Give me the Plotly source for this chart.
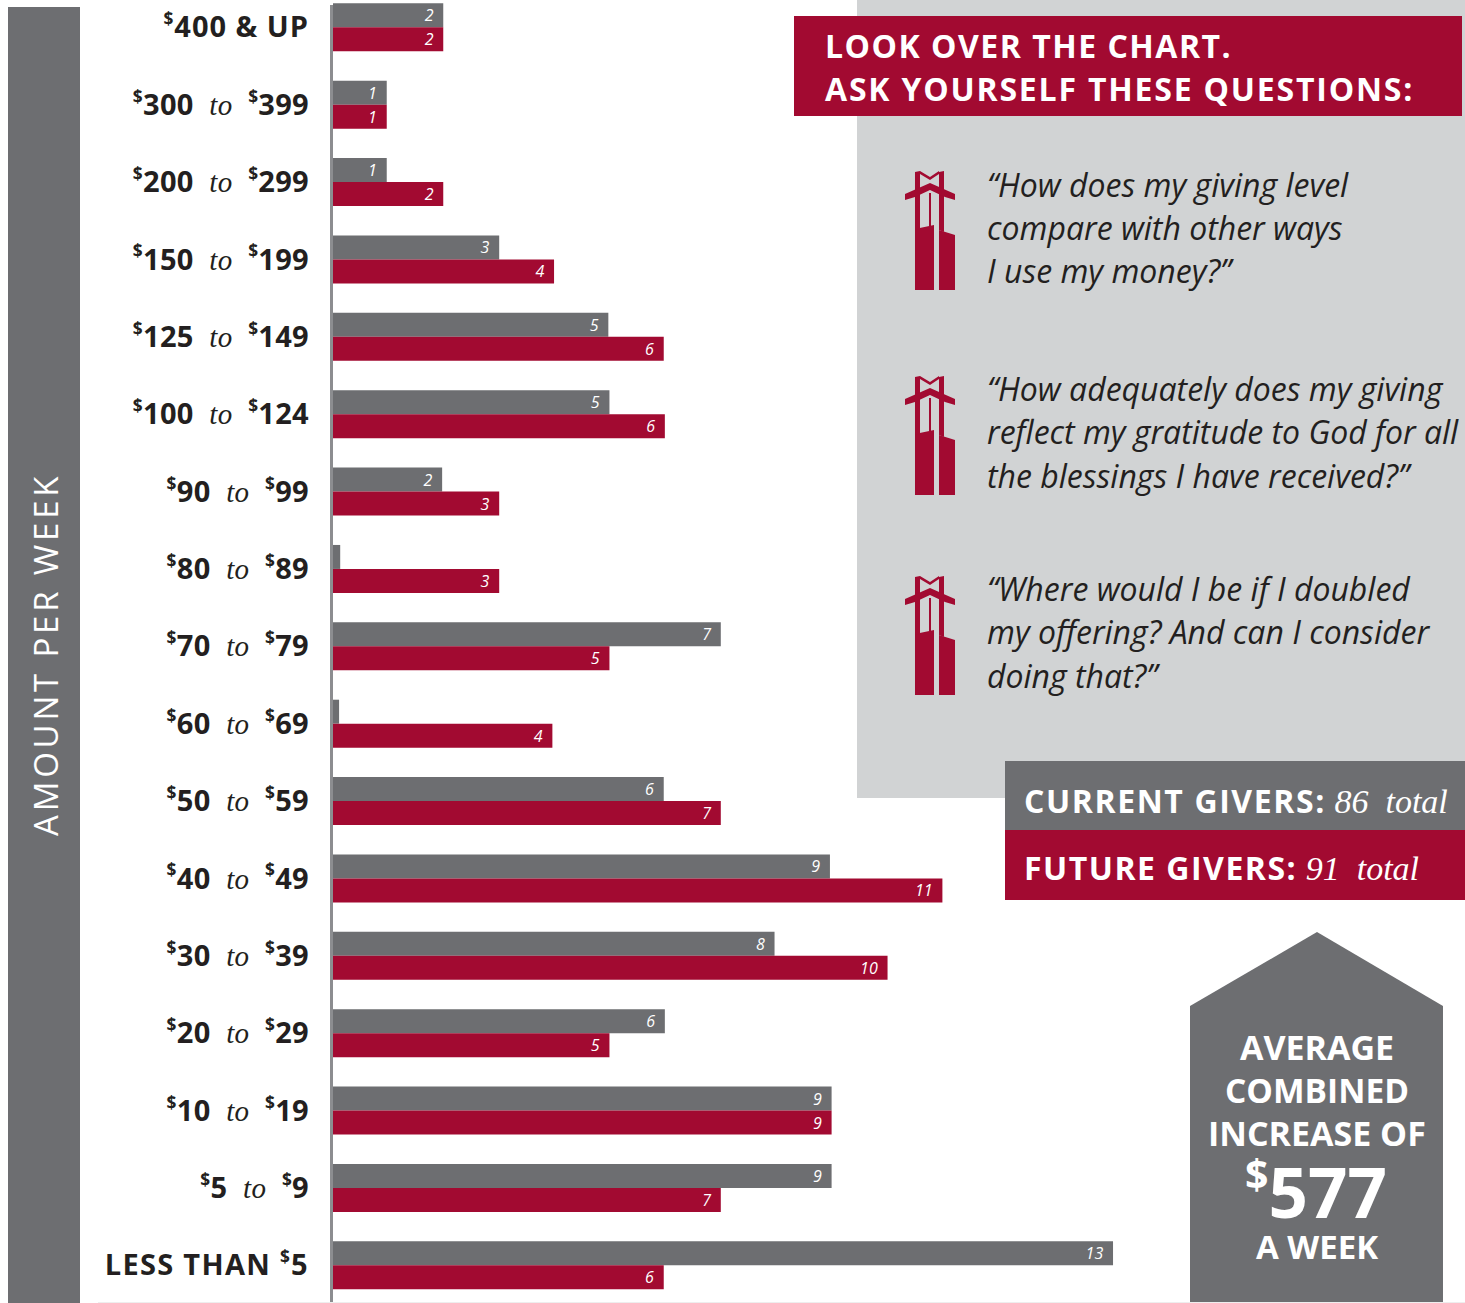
import plotly.graph_objects as go

W, H = 1465, 1303
GREY = "#6d6e71"
RED = "#a20a31"
PANEL = "#d1d3d4"
INK = "#231f20"
SANS = "Open Sans"
SCRIPT = "Liberation Serif"

bands = ["$400 & UP", "$300 to $399", "$200 to $299", "$150 to $199", "$125 to $149",
         "$100 to $124", "$90 to $99", "$80 to $89", "$70 to $79", "$60 to $69",
         "$50 to $59", "$40 to $49", "$30 to $39", "$20 to $29", "$10 to $19",
         "$5 to $9", "LESS THAN $5"]
current_labels = [2, 1, 1, 3, 5, 5, 2, "", 7, "", 6, 9, 8, 6, 9, 9, 13]
future_labels = [2, 1, 2, 4, 6, 6, 3, 3, 5, 4, 7, 11, 10, 5, 9, 7, 6]
# bar lengths (the drawn bars are not strictly proportional to the labels)
current_lengths = [1.99, 0.97, 0.97, 3.0, 4.97, 4.99, 1.97, 0.13, 7.0, 0.11, 5.97, 8.97, 7.97, 5.99, 9.0, 9.0, 14.08]
future_lengths = [1.99, 0.97, 1.99, 3.99, 5.97, 5.99, 3.0, 3.0, 4.99, 3.96, 7.0, 11.0, 10.01, 4.99, 9.0, 7.0, 5.97]

question_lines = [
    ["\u201cHow does my giving level", "compare with other ways", "I use my money?\u201d"],
    ["\u201cHow adequately does my giving", "reflect my gratitude to God for all", "the blessings I have received?\u201d"],
    ["\u201cWhere would I be if I doubled", "my offering? And can I consider", "doing that?\u201d"],
]
header_lines = ["LOOK OVER THE CHART.", "ASK YOURSELF THESE QUESTIONS:"]
house_lines = ["AVERAGE", "COMBINED", "INCREASE OF"]

def px(x):
    return x / W

def py(y):
    return 1 - y / H

DOLLAR = '<sup><span style="font-size:85%">$</span></sup>'

def spaced(text, amount):
    return f'<span style="letter-spacing:{amount}px">{text}</span>'

def rich_band(b):
    if b == "$400 & UP":
        return spaced(f"{DOLLAR}400\u00a0&amp;\u00a0UP", 1.0)
    if b == "LESS THAN $5":
        return spaced(f"LESS\u00a0THAN\u00a0{DOLLAR}5", 1.3)
    a, c = b.split(" to ")
    to = f'<span style="font-family:{SCRIPT};font-style:italic;font-weight:400">to</span>'
    return spaced(f"{DOLLAR}{a[1:]}\u00a0\u00a0{to}\u00a0\u00a0{DOLLAR}{c[1:]}", 0.3)

def rect(x0, y0, x1, y1, color):
    return dict(type="rect", xref="paper", yref="paper", x0=px(x0), x1=px(x1), y0=py(y0), y1=py(y1),
                fillcolor=color, line_width=0, layer="below")

def poly(points, color, dx=0, dy=0, layer="below"):
    d = "M" + " L".join(f"{px(x + dx):.5f},{py(y + dy):.5f}" for x, y in points) + " Z"
    return dict(type="path", xref="paper", yref="paper", path=d, fillcolor=color, line_width=0, layer=layer)

def note(x, y, text, size, color="white", anchor="left", family=SANS, weight=400, style="normal", angle=0):
    return dict(xref="paper", yref="paper", x=px(x), y=py(y), text=text, showarrow=False,
                xanchor=anchor, yanchor="middle", textangle=angle, borderpad=0,
                font=dict(family=family, size=size, color=color, weight=weight, style=style))

fig = go.Figure()
for name, lengths, labels, color in [("Current givers", current_lengths, current_labels, GREY),
                                     ("Future givers", future_lengths, future_labels, RED)]:
    fig.add_trace(go.Bar(
        name=name, orientation="h", y=bands, x=lengths, marker=dict(color=color, line_width=0),
        text=[f"{v}\u00a0\u2009" if v != "" else "" for v in labels],
        textposition="inside", insidetextanchor="end", textangle=0, constraintext="none",
        textfont=dict(family=SANS, size=16, color="white", style="italic"),
        cliponaxis=False, hoverinfo="x+y",
    ))

shapes = [
    rect(857, 0, 1465, 798, PANEL),
    rect(8, 7, 80, 1303, GREY),
    rect(794, 16, 1462, 116, RED),
    rect(1005, 761, 1465, 830, GREY),
    rect(1005, 830, 1465, 900, RED),
    poly([(1190, 1006), (1317, 932), (1443, 1006), (1443, 1303), (1190, 1303)], GREY),
    dict(type="line", xref="paper", yref="paper", x0=px(331.5), x1=px(331.5), y0=py(5), y1=py(1303),
         line=dict(color="#8c8d90", width=3), layer="below"),
    dict(type="line", xref="paper", yref="paper", x0=px(98), x1=px(1465), y0=py(1302.5), y1=py(1302.5),
         line=dict(color="#eeeeee", width=1), layer="below"),
]
# steeple icon, drawn at each of the three questions
icon_parts = [
    [(915, 229), (934, 225), (934, 290), (915, 290)],
    [(939, 230), (955, 235), (955, 290), (939, 290)],
    [(915, 172), (920, 171), (920, 229), (915, 230)],
    [(939, 172), (944, 171), (944, 232), (939, 230)],
    [(920, 171), (930, 177), (939, 171), (939, 174), (930, 180), (920, 174)],
    [(905, 194), (930, 183), (955, 194), (955, 200), (945, 197), (930, 190), (915, 197), (905, 200)],
    [(929, 193), (931, 193), (931, 226), (929, 226)],
]
for dy in (0, 205, 405):
    for part in icon_parts:
        shapes.append(poly(part, RED, dy=dy))

script_span = f'<span style="font-family:{SCRIPT};font-style:italic;font-weight:400;font-size:34px">'
notes = [
    note(45, 655, spaced("AMOUNT PER WEEK", 3.8), 33, anchor="center", angle=-90),
    note(824, 45, spaced(header_lines[0], 1.5), 32, weight=700),
    note(824, 88, spaced(header_lines[1], 1.8), 32, weight=700),
    note(1023, 800, spaced("CURRENT GIVERS:", 1.6) + f"{script_span} 86  total</span>", 32, weight=700),
    note(1023, 868, spaced("FUTURE GIVERS:", 1.5) + f"{script_span} 91  total</span>", 32, weight=700),
    note(1317, 1047, house_lines[0], 34, anchor="center", weight=700),
    note(1317, 1090, house_lines[1], 33.5, anchor="center", weight=700),
    note(1317, 1133, house_lines[2], 34, anchor="center", weight=700),
    note(1316, 1191, f"{DOLLAR}577", 69, anchor="center", weight=700),
    note(1317, 1246, "A WEEK", 33, anchor="center", weight=700),
]
for lines, top in zip(question_lines, (184, 389, 589)):
    for i, line in enumerate(lines):
        notes.append(note(986, top + 43 * i, line, 32, color=INK, style="italic"))

fig.update_layout(
    width=W, height=H, autosize=False, margin=dict(l=0, r=0, t=0, b=0),
    paper_bgcolor="white", plot_bgcolor="rgba(0,0,0,0)", showlegend=False,
    barmode="group", bargap=0.38, bargroupgap=0,
    shapes=shapes, annotations=notes,
    xaxis=dict(domain=[333 / W, 1], range=[0, (W - 333) / 55.4], visible=False, fixedrange=True),
    yaxis=dict(
        type="category", categoryorder="array", categoryarray=bands,
        range=[16.487, -0.353], domain=[0, 1], fixedrange=True,
        tickmode="array", tickvals=bands, ticktext=[rich_band(b) for b in bands],
        showgrid=False, zeroline=False, showline=False, ticks="", ticklabelstandoff=23,
        tickfont=dict(family=SANS, size=29, color=INK, weight=700),
    ),
)

fig.write_html("out.html", config=dict(displayModeBar=False),
               post_script="document.body.style.margin='0';document.documentElement.style.overflow='hidden';")
